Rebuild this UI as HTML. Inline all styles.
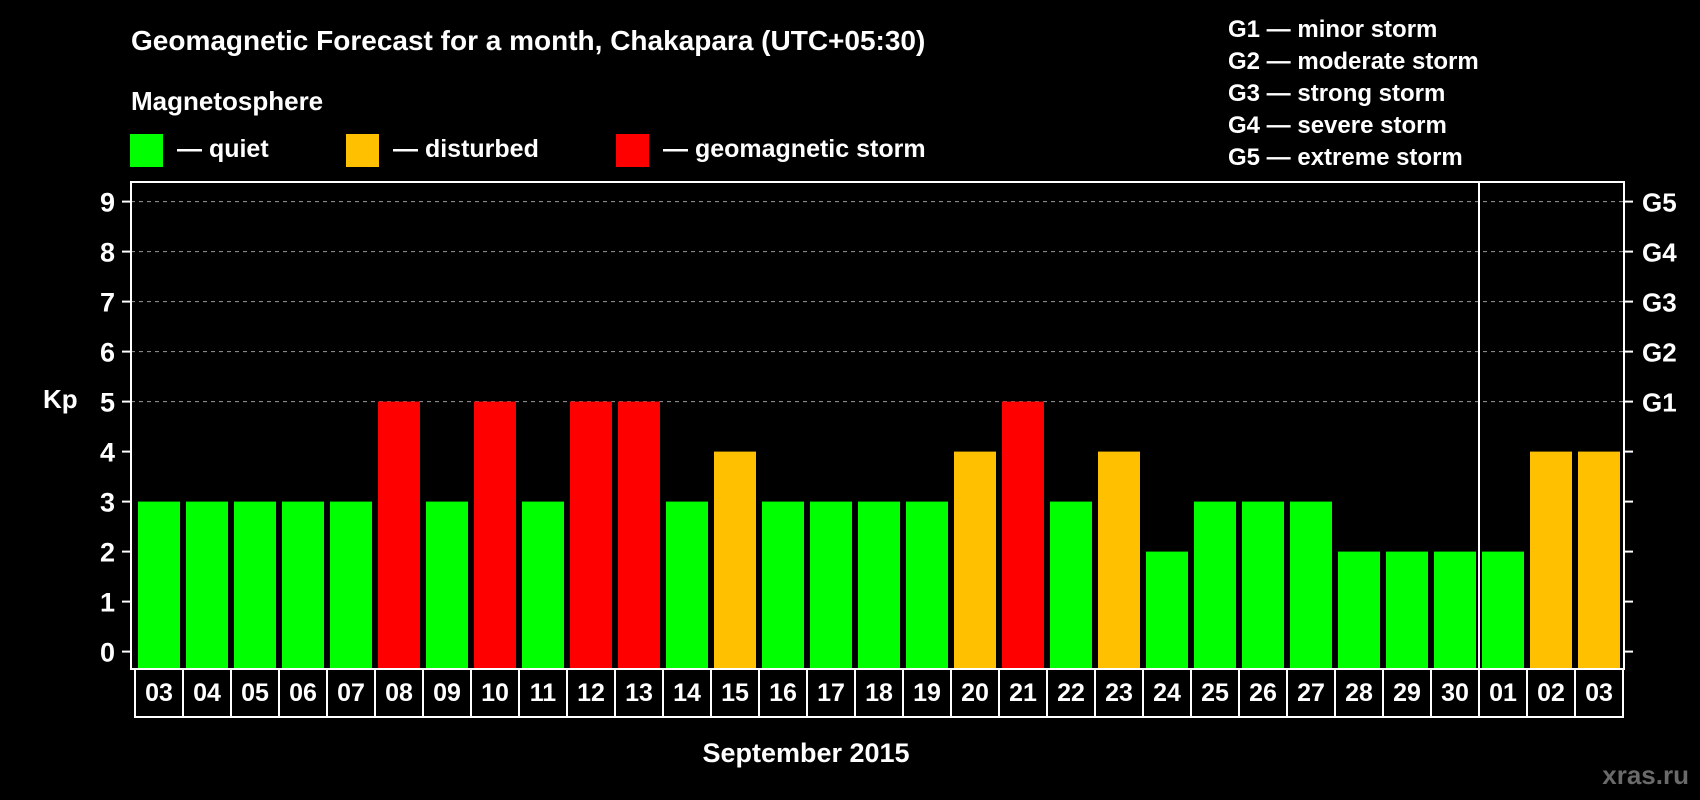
<!DOCTYPE html>
<html><head><meta charset="utf-8"><style>
html,body{margin:0;padding:0;background:#000;}
svg{display:block;font-family:"Liberation Sans",Arial,sans-serif;font-weight:bold;}
</style></head><body>
<svg id="chart" width="1700" height="800" viewBox="0 0 1700 800">
<rect x="0" y="0" width="1700" height="800" fill="#000"/>
<text x="131" y="50" fill="#fff" font-size="28">Geomagnetic Forecast for a month, Chakapara (UTC+05:30)</text>
<text x="131" y="110" fill="#fff" font-size="26">Magnetosphere</text>
<g><rect x="130" y="134" width="33" height="33" fill="#00ff00"/><text x="177" y="157" fill="#fff" font-size="25">— quiet</text></g>
<g><rect x="346" y="134" width="33" height="33" fill="#ffc000"/><text x="393" y="157" fill="#fff" font-size="25">— disturbed</text></g>
<g><rect x="616" y="134" width="33" height="33" fill="#ff0000"/><text x="663" y="157" fill="#fff" font-size="25">— geomagnetic storm</text></g>
<g font-size="24" fill="#fff">
<text x="1228" y="37">G1 — minor storm</text>
<text x="1228" y="69">G2 — moderate storm</text>
<text x="1228" y="101">G3 — strong storm</text>
<text x="1228" y="133">G4 — severe storm</text>
<text x="1228" y="165">G5 — extreme storm</text>
</g>
<g id="grid"></g>
<g id="bars"></g>
<g id="axes"></g>
<text x="43" y="408" fill="#fff" font-size="26">Kp</text>
<text x="806" y="762" fill="#fff" font-size="27" text-anchor="middle">September 2015</text>
<text x="1689" y="784" fill="#6a6a6a" font-size="26" text-anchor="end">xras.ru</text>
</svg>
<script>
const days = ["03","04","05","06","07","08","09","10","11","12","13","14","15","16","17","18","19","20","21","22","23","24","25","26","27","28","29","30","01","02","03"];
const kpValues = [3,3,3,3,3,5,3,5,3,5,5,3,4,3,3,3,3,4,5,3,4,2,3,3,3,2,2,2,2,4,4];
const yTicks = [0,1,2,3,4,5,6,7,8,9];
const gLabels = ["G1","G2","G3","G4","G5"];
const monthBreakIndex = 28;

const NS = "http://www.w3.org/2000/svg";
const L = 131, R = 1624, T = 182, B = 669, cellX0 = 135, cellW = 48, cellB = 717;
const y = v => 651.6 - 50 * v;
const x = i => cellX0 + i * cellW;
function mk(tag, attrs, parent) {
  const e = document.createElementNS(NS, tag);
  for (const k in attrs) e.setAttribute(k, attrs[k]);
  parent.appendChild(e);
  return e;
}
const grid = document.getElementById("grid"), bars = document.getElementById("bars"), axes = document.getElementById("axes");

yTicks.forEach(v => {
  if (v >= 5) {
    const g = mk("line", {x1: L, x2: R, y1: y(v), y2: y(v), stroke: "#999", "stroke-width": 1, "stroke-dasharray": "4,4"}, grid);
    
    
  }
  const t1 = mk("line", {x1: L - 9, x2: L, y1: y(v), y2: y(v), stroke: "#fff", "stroke-width": 2}, axes);
  
  
  const t2 = mk("line", {x1: R, x2: R + 9, y1: y(v), y2: y(v), stroke: "#fff", "stroke-width": 2}, axes);
  
  
  const lab = mk("text", {x: 115, y: y(v) + 10, fill: "#fff", "font-size": 27, "text-anchor": "end"}, axes);
  lab.textContent = v;
  
  
});
gLabels.forEach((g, i) => {
  const t = mk("text", {x: 1642, y: y(5 + i) + 10, fill: "#fff", "font-size": 26}, axes);
  t.textContent = g;
  
  
});

kpValues.forEach((v, i) => {
  const col = v >= 5 ? "#ff0000" : (v >= 4 ? "#ffc000" : "#00ff00");
  const b = mk("rect", {x: x(i) + 3, y: y(v), width: 42, height: B - y(v), fill: col}, bars);
  
  
});

const frame = mk("rect", {x: L, y: T, width: R - L, height: B - T, fill: "none", stroke: "#fff", "stroke-width": 2}, axes);


const sep = mk("line", {x1: x(monthBreakIndex), x2: x(monthBreakIndex), y1: T, y2: B, stroke: "#fff", "stroke-width": 2}, axes);



days.forEach((d, i) => {
  const c = mk("rect", {x: x(i), y: B, width: cellW, height: cellB - B, fill: "#000", stroke: "#fff", "stroke-width": 2}, axes);
  
  
  const t = mk("text", {x: x(i) + cellW / 2, y: 701, fill: "#fff", "font-size": 25, "text-anchor": "middle"}, axes);
  t.textContent = d;
  
  
});
</script>
</body></html>
